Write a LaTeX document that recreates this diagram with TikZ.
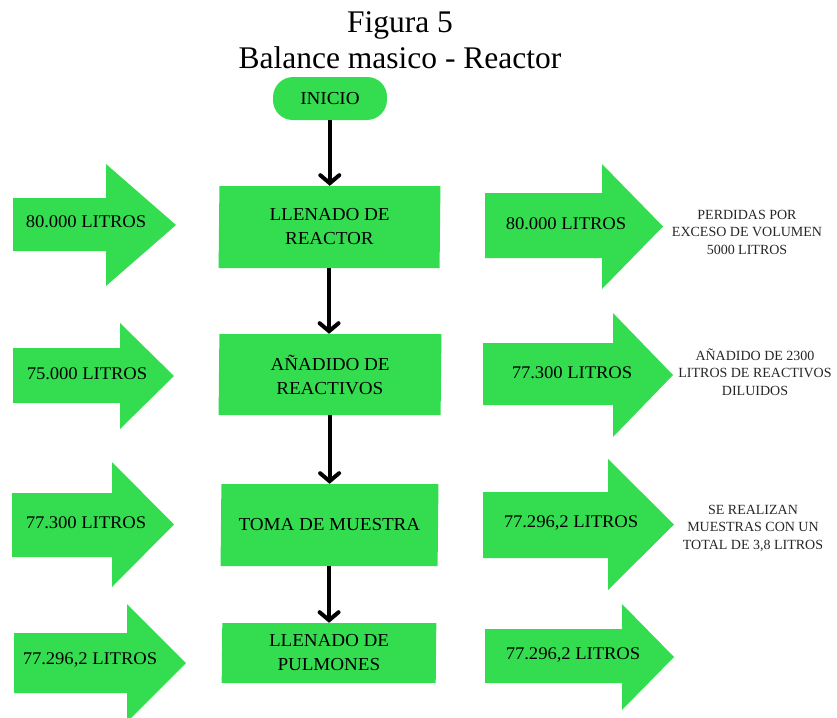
\documentclass[tikz,border=0pt]{standalone}
\usepackage{fontspec}
\setmainfont{Liberation Serif}
\usetikzlibrary{arrows.meta}
\definecolor{flowgreen}{RGB}{52,221,80}

% block arrow: x start, head start x, tip x, body top, body bottom, head top, head bottom
\newcommand\blockarrow[7]{%
  \fill[flowgreen] (#1,#4) -- (#2,#4) -- (#2,#6) -- ({#3},{(#6+#7)/2})
    -- (#2,#7) -- (#2,#5) -- (#1,#5) -- cycle;}

\begin{document}
\begin{tikzpicture}[x=1pt,y=-1pt,
  % slight horizontal stretch and slant keep the glyph outlines crisp at these sizes
  crisp/.style={xscale=1.04, xslant=0.01},
  stepbox/.style={fill=flowgreen, inner sep=0pt, align=center, crisp,
    font=\fontsize{18.3}{24}\selectfont},
  startbox/.style={stepbox, rounded corners=20pt, minimum width=109.6pt, minimum height=43pt},
  qty/.style={inner sep=0pt, crisp, font=\fontsize{17.8}{22}\selectfont},
  note/.style={inner sep=0pt, align=center, text=black!85,
    font=\fontsize{14}{17.5}\selectfont},
  title/.style={inner sep=0pt, anchor=base, font=\fontsize{31.5}{36}\selectfont},
  flowline/.style={line width=4pt, -{Straight Barb[length=8pt,width=19pt,line cap=round]}}]
\useasboundingbox (0,0) rectangle (837,717);

% title
\node[title] (t1) at (400,33) {Figura 5};
\node[title] (t2) at (400,68) {Balance masico - Reactor};

% block arrows, inputs on the left
\blockarrow{13}{106}{176}{198}{251}{164}{286}
\blockarrow{13}{120}{174}{348}{403}{323}{429}
\blockarrow{12}{112}{174}{493}{557}{462}{587}
\blockarrow{14}{127}{186}{633}{693}{604}{722}
% block arrows, outputs on the right
\blockarrow{485}{602}{663}{193}{258}{164}{289}
\blockarrow{483}{613}{673}{343}{405}{313}{437}
\blockarrow{483}{608}{674}{492}{558}{459}{590}
\blockarrow{485}{622}{674}{629}{683}{604}{710}

% quantities
\node[qty] (in1) at (86,222) {80.000 LITROS};
\node[qty] (in2) at (87,374) {75.000 LITROS};
\node[qty] (in3) at (86,523) {77.300 LITROS};
\node[qty] (in4) at (90,660) {77.296,2 LITROS};
\node[qty] (out1) at (566,224) {80.000 LITROS};
\node[qty] (out2) at (572,373) {77.300 LITROS};
\node[qty] (out3) at (571,523) {77.296,2 LITROS};
\node[qty] (out4) at (573,655) {77.296,2 LITROS};

% notes
\node[note] (n1) at (747,232) {PERDIDAS POR\\EXCESO DE VOLUMEN\\5000 LITROS};
\node[note] (n2) at (755,372) {AÑADIDO DE 2300\\LITROS DE REACTIVOS\\DILUIDOS};
\node[note] (n3) at (753,528) {SE REALIZAN\\MUESTRAS CON UN\\TOTAL DE 3,8 LITROS};

% process steps (widths are given before the 1.04 stretch)
\node[startbox] (s0) at (330,98.5) {INICIO};
\node[stepbox, minimum width=212.5pt, minimum height=82pt] (s1) at (329.5,227) {LLENADO DE\\REACTOR};
\node[stepbox, minimum width=213.5pt, minimum height=81pt] (s2) at (330,374.5) {AÑADIDO DE\\REACTIVOS};
\node[stepbox, minimum width=208.7pt, minimum height=82pt] (s3) at (329.5,525) {TOMA DE MUESTRA};
\node[stepbox, minimum width=205.8pt, minimum height=60pt] (s4) at (329,653) {LLENADO DE\\PULMONES};

% connectors
\draw[flowline] (s0.south) -- (s0.south |- s1.north);
\draw[flowline] (s1.south) -- (s1.south |- s2.north);
\draw[flowline] (s2.south) -- (s2.south |- s3.north);
\draw[flowline] (s3.south) -- (s3.south |- s4.north);
\end{tikzpicture}
\end{document}
